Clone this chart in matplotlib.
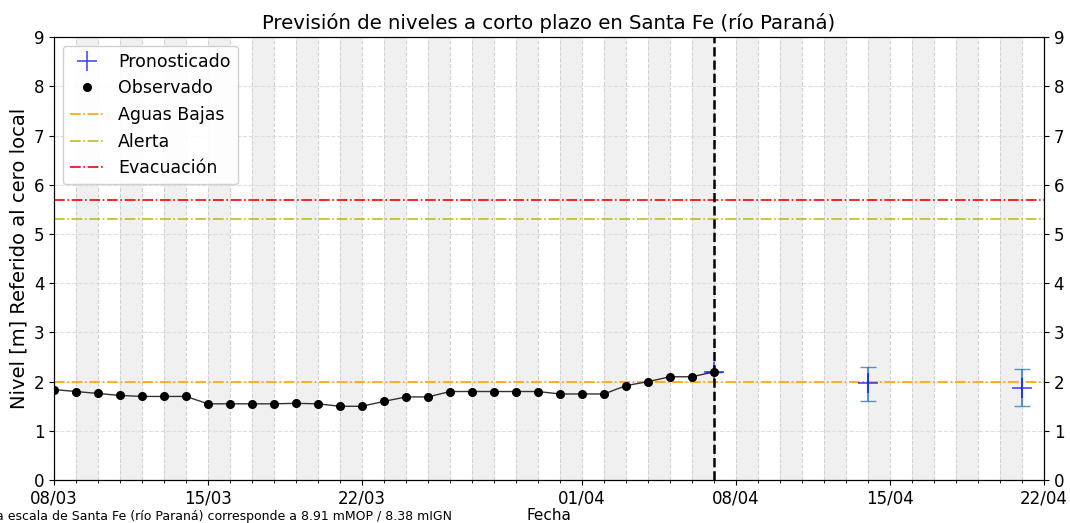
import numpy as np
import pandas as pd
import matplotlib
matplotlib.use('Agg')
import matplotlib.pyplot as plt
import matplotlib.dates as mdates

# observed daily levels (m)
obs_dates = pd.date_range('2024-03-08', '2024-04-07', freq='D')
obs_levels = [1.84, 1.80, 1.76, 1.72, 1.70, 1.70, 1.70, 1.55, 1.55, 1.55,
              1.55, 1.56, 1.55, 1.50, 1.50, 1.60, 1.69, 1.69, 1.80, 1.80,
              1.80, 1.80, 1.80, 1.75, 1.75, 1.75, 1.92, 2.00, 2.10, 2.10, 2.20]

# forecast
fc_dates = pd.to_datetime(['2024-04-07', '2024-04-14', '2024-04-21'])
fc_levels = [2.20, 1.97, 1.88]
fc_low = [2.20, 1.60, 1.50]
fc_high = [2.20, 2.29, 2.25]

# reference levels
ref_names = ['Aguas Bajas', 'Alerta', 'Evacuación']
ref_values = [2.0, 5.3, 5.7]
ref_colors = ['orange', '#bcbd22', 'red']

x_start = pd.Timestamp('2024-03-08')
x_end = pd.Timestamp('2024-04-22')
forecast_day = pd.Timestamp('2024-04-07')

fig, ax = plt.subplots(figsize=(10.7, 5.23), dpi=100)
fig.subplots_adjust(left=0.0505, right=0.9757, top=0.929, bottom=0.082)

# alternate day shading
d = x_start + pd.Timedelta(days=1)
while d < x_end:
    ax.axvspan(d, d + pd.Timedelta(days=1), color='#f0f0f0', zorder=0, lw=0)
    d += pd.Timedelta(days=2)

yerr = [np.array(fc_levels) - np.array(fc_low), np.array(fc_high) - np.array(fc_levels)]
ax.errorbar(fc_dates, fc_levels, yerr=yerr, fmt='none', ecolor='#1f77b4',
            elinewidth=1.5, capsize=6, alpha=0.75, zorder=3)
ax.plot(fc_dates, fc_levels, '+', color='blue', alpha=0.7, markersize=15,
        markeredgewidth=1.2, label='Pronosticado', zorder=4)

ax.plot(obs_dates, obs_levels, '-', color='#333333', linewidth=1, zorder=3)
ax.plot(obs_dates, obs_levels, 'o', color='black', markersize=5.5, label='Observado', zorder=4)

for name, val, col in zip(ref_names, ref_values, ref_colors):
    ax.axhline(val, color=col, linestyle='-.', linewidth=1.2, label=name, zorder=2)

ax.axvline(forecast_day, color='black', linestyle='--', linewidth=1.8, zorder=5)

ax.set_xlim(x_start, x_end)
ax.set_ylim(0, 9)
ax.xaxis.set_major_locator(mdates.DayLocator(bymonthday=[1, 8, 15, 22]))
ax.xaxis.set_major_formatter(mdates.DateFormatter('%d/%m'))
ax.xaxis.set_minor_locator(mdates.DayLocator())
ax.grid(True, which='major', axis='y', color='#dddddd', linestyle='--', linewidth=0.8)
ax.grid(True, which='both', axis='x', color='#d0d0d0', linestyle='--', linewidth=0.8)
ax.set_axisbelow(True)
ax.tick_params(axis='both', labelsize=12)

ax2 = ax.twinx()
ax2.set_ylim(0, 9)
ax2.tick_params(axis='y', labelsize=12)

ax.set_title('Previsión de niveles a corto plazo en Santa Fe (río Paraná)', fontsize=14.2)
ax.set_xlabel('Fecha', fontsize=11, labelpad=0)
ax.set_ylabel('Nivel [m] Referido al cero local', fontsize=14, labelpad=4)
ax.legend(loc='upper left', fontsize=12.5, framealpha=0.9)

fig.text(-0.01, 0.006, 'La escala de Santa Fe (río Paraná) corresponde a 8.91 mMOP / 8.38 mIGN',
         fontsize=9)

plt.savefig('out.png')
